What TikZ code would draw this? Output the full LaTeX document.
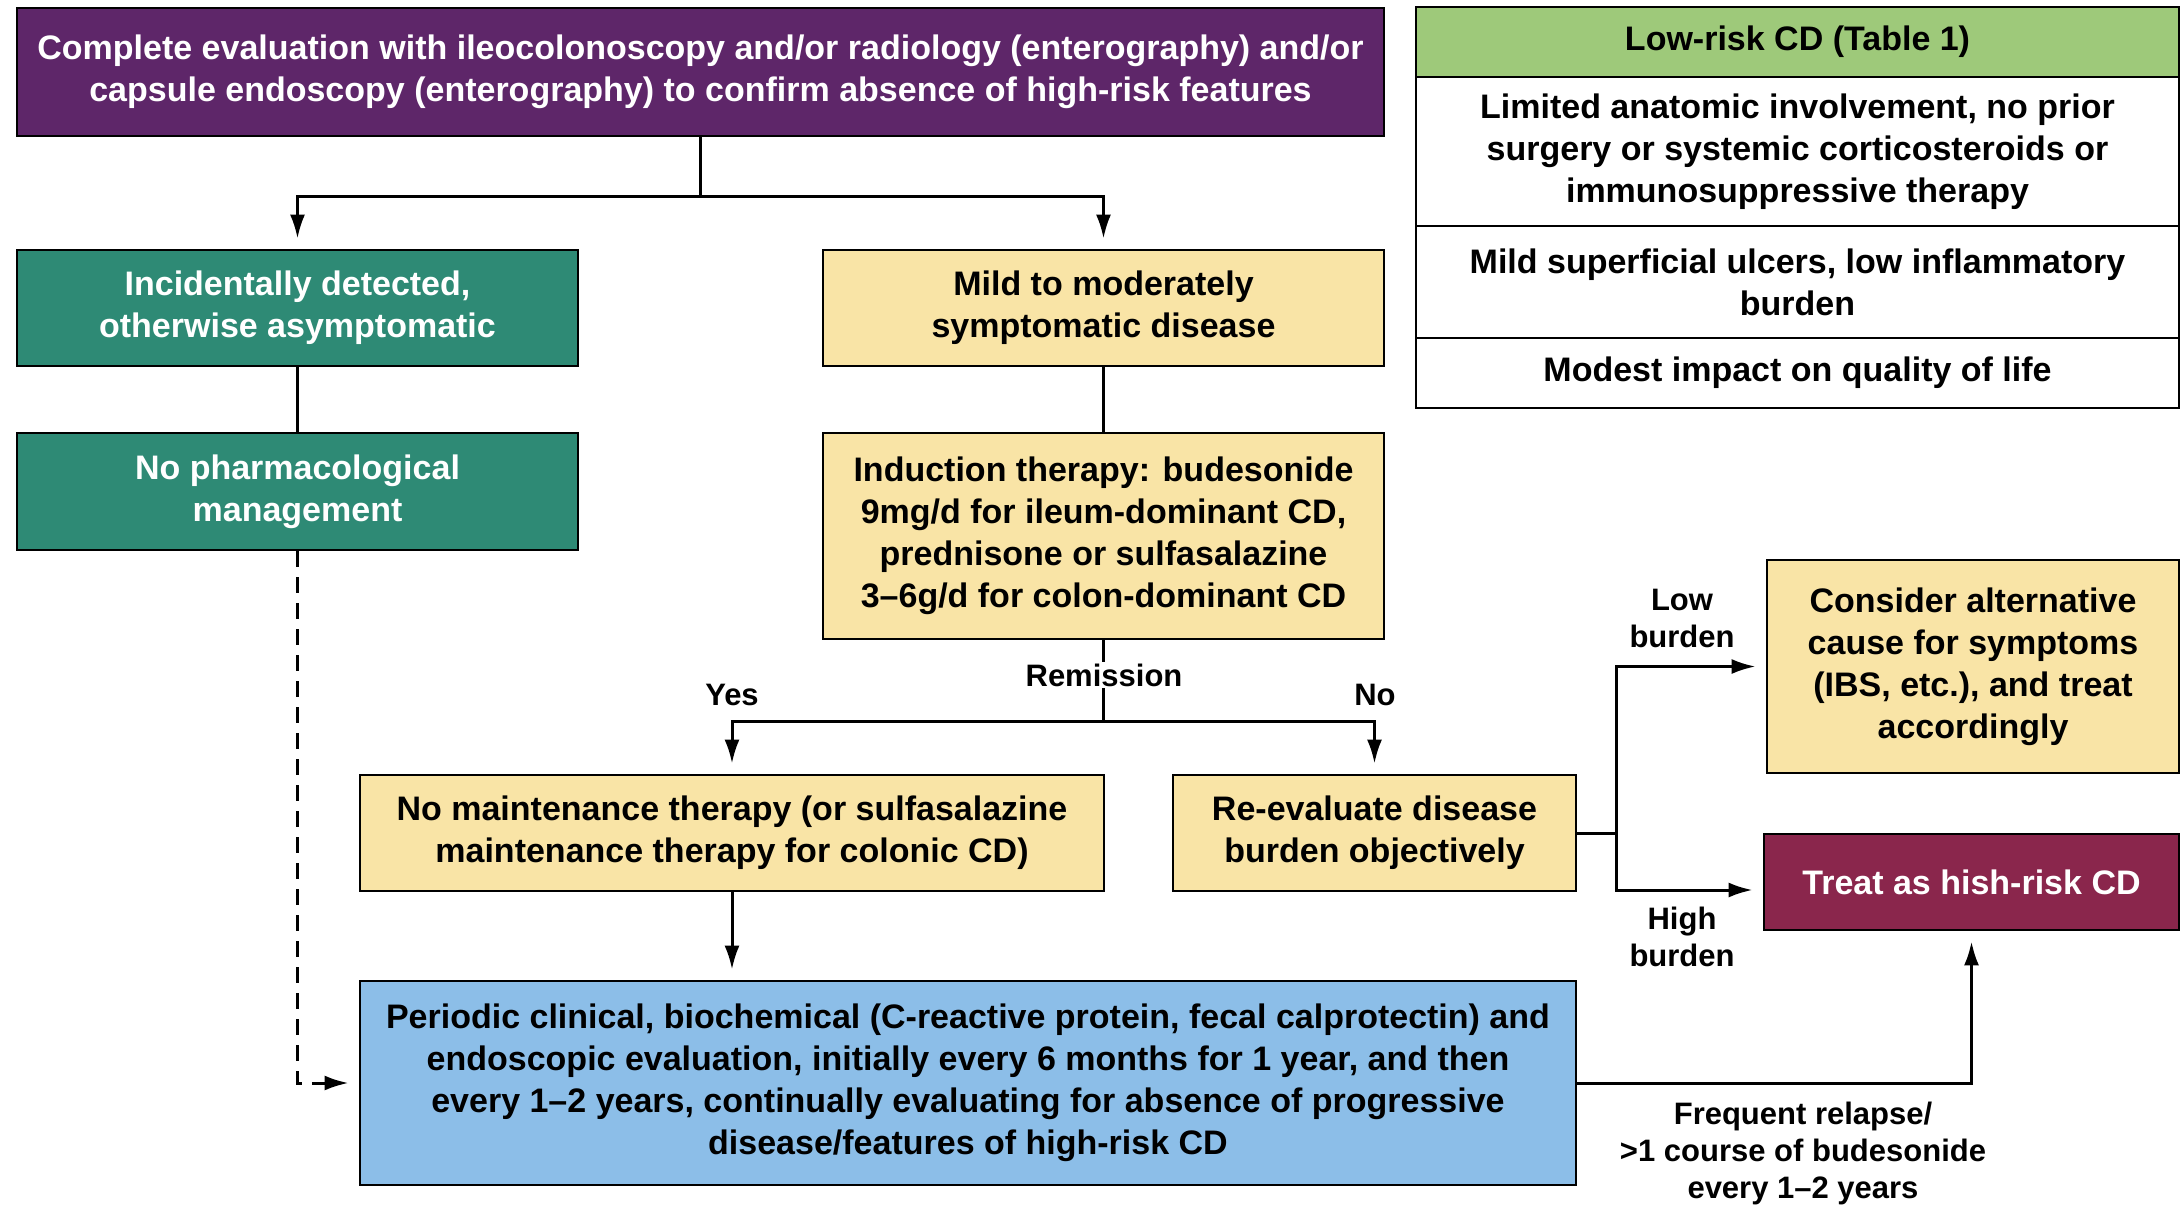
\documentclass[tikz,border=0pt]{standalone}
\usepackage{fontspec}
\setmainfont{Liberation Sans}
\usepackage{tikz}
\usetikzlibrary{arrows.meta}
\definecolor{plum purple}{rgb}{0.37, 0.15, 0.41}
\definecolor{sea teal}{rgb}{0.18, 0.54, 0.46}
\definecolor{sand yellow}{rgb}{0.976, 0.894, 0.65}
\definecolor{leaf green}{rgb}{0.62, 0.79, 0.48}
\definecolor{wine red}{rgb}{0.54, 0.15, 0.30}
\definecolor{sky blue}{rgb}{0.55, 0.745, 0.91}

\tikzset{
	box/.style = {draw = black, line width = 2.8pt, align = center, inner sep = 0pt,
		font = \fontsize{34}{42}\selectfont\bfseries},
	lightbox/.style = {box, text = black},
	darkbox/.style = {box, text = white},
	tag/.style = {align = center, inner sep = 2pt, font = \fontsize{31}{37}\selectfont\bfseries},
	conn/.style = {line width = 3pt},
	arr/.style = {conn, -{Latex[length = 24pt, width = 15pt]}, shorten > = 10pt}
}

\begin{document}
\begin{tikzpicture}[x = 1pt, y = -1pt]
			\useasboundingbox (0, 0) rectangle (2183, 1208);
			% first step
			\node[darkbox, fill = plum purple, minimum width = 1367, minimum height = 128] (top) at (700.5, 72)
				{Complete evaluation with ileocolonoscopy and/or radiology (enterography) and/or\\
				capsule endoscopy (enterography) to confirm absence of high-risk features};
			% table of low-risk CD
			\node[lightbox, fill = leaf green, minimum width = 763, minimum height = 70] (lowhead) at (1797.5, 42)
				{Low-risk CD (Table 1)};
			\node[lightbox, fill = white, minimum width = 763, minimum height = 149] (lowrowa) at (1797.5, 151.5)
				{Limited anatomic involvement, no prior\\ surgery or systemic corticosteroids or\\ immunosuppressive therapy};
			\node[lightbox, fill = white, minimum width = 763, minimum height = 112] (lowrowb) at (1797.5, 282)
				{Mild superficial ulcers, low inflammatory\\ burden};
			\node[lightbox, fill = white, minimum width = 763, minimum height = 70] (lowrowc) at (1797.5, 373)
				{Modest impact on quality of life};
			% left branch
			\node[darkbox, fill = sea teal, minimum width = 561, minimum height = 116] (incid) at (297.5, 308)
				{Incidentally detected,\\ otherwise asymptomatic};
			\node[darkbox, fill = sea teal, minimum width = 561, minimum height = 117] (nopharm) at (297.5, 491.5)
				{No pharmacological\\ management};
			% right branch
			\node[lightbox, fill = sand yellow, minimum width = 561, minimum height = 116] (mild) at (1103.5, 308)
				{Mild to moderately\\ symptomatic disease};
			\node[lightbox, fill = sand yellow, minimum width = 561, minimum height = 206] (induct) at (1103.5, 536)
				{Induction therapy: budesonide\\ 9mg/d for ileum-dominant CD,\\ prednisone or sulfasalazine\\ 3--6g/d for colon-dominant CD};
			\node[lightbox, fill = sand yellow, minimum width = 744, minimum height = 116] (nomaint) at (732, 833)
				{No maintenance therapy (or sulfasalazine\\ maintenance therapy for colonic CD)};
			\node[lightbox, fill = sand yellow, minimum width = 403, minimum height = 116] (reeval) at (1374.5, 833)
				{Re-evaluate disease\\ burden objectively};
			\node[lightbox, fill = sand yellow, minimum width = 412, minimum height = 213] (consider) at (1973, 666.5)
				{Consider alternative\\ cause for symptoms\\ (IBS, etc.), and treat\\ accordingly};
			\node[darkbox, fill = wine red, minimum width = 415, minimum height = 96] (treat) at (1971.5, 882)
				{Treat as hish-risk CD};
			% follow-up
			\node[lightbox, fill = sky blue, minimum width = 1216, minimum height = 204] (periodic) at (968, 1083)
				{Periodic clinical, biochemical (C-reactive protein, fecal calprotectin) and\\
				endoscopic evaluation, initially every 6 months for 1 year, and then\\
				every 1--2 years, continually evaluating for absence of progressive\\
				disease/features of high-risk CD};
			% connectors
			\draw[conn] (top.south) -- ++(0, 59) coordinate (split);
			\draw[arr] (split) -| (incid.north);
			\draw[arr] (split) -| (mild.north);
			\draw[conn] (incid.south) -- (nopharm.north);
			\draw[conn] (mild.south) -- (induct.north);
			\draw[conn] (induct.south) -- ++(0, 81) coordinate (remit);
			\draw[arr] (remit) -| (nomaint.north);
			\draw[arr] (remit) -| (reeval.north);
			\draw[arr] (nomaint.south) -- (nomaint.south |- periodic.north);
			\draw[arr, dashed, dash pattern = on 16pt off 10pt] (nopharm.south) |- (periodic.west);
			\draw[conn] (reeval.east) -- ++(39, 0) coordinate (fork);
			\draw[arr] (fork) |- (consider.west);
			\draw[arr] (fork) |- ([yshift = -8pt]treat.west);
			\draw[arr] (periodic.east) -| (treat.south);
			% labels
			\node[tag, fill = white] (remlabel) at (1104, 675) {Remission};
			\node[tag] (yeslabel) at (732, 695) {Yes};
			\node[tag] (nolabel) at (1375, 695) {No};
			\node[tag] (lowlabel) at (1682, 618) {Low\\ burden};
			\node[tag] (highlabel) at (1682, 937) {High\\ burden};
			\node[tag] (relapselabel) at (1803, 1153) {Frequent relapse/\\ >1 course of budesonide\\ every 1--2 years};
		\end{tikzpicture}
\end{document}
